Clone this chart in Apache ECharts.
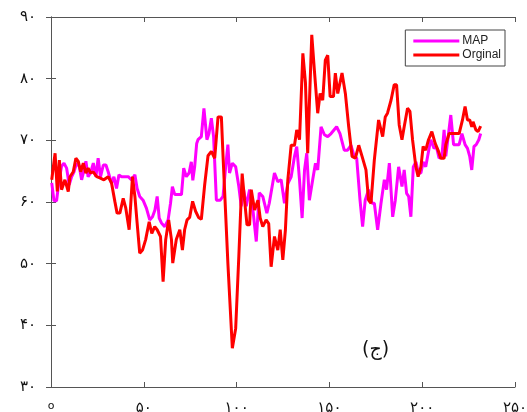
<!DOCTYPE html>
<html>
<head>
<meta charset="utf-8">
<script src="https://cdn.jsdelivr.net/npm/echarts@6/dist/echarts.min.js"></script>
<style>
  html, body { margin: 0; padding: 0; background: #fff; }
  #chart { width: 527px; height: 412px; }
</style>
</head>
<body>
<div id="chart"></div>
<script>
// سری MAP
const mapX = [0.4, 1.6, 3.0, 4.4, 5.7, 7.0, 8.4, 9.8, 11.1, 12.4, 13.8, 15.2, 16.5, 17.8, 18.8, 20.0, 21.3, 22.8, 24.2, 25.4,
  26.7, 28.2, 29.6, 30.8, 32.6, 33.9, 35.3, 36.6, 38.0, 39.8, 41.6, 43.4, 45.2, 46.4, 47.8, 49.6, 51.4, 53.2, 54.7, 56.0,
  57.2, 58.3, 59.5, 61.3, 63.1, 64.4, 65.4, 66.7, 68.5, 70.3, 71.5, 72.9, 74.4, 75.6, 76.4, 77.4, 78.5, 79.2, 81.0, 82.4,
  84.0, 85.1, 86.4, 87.6, 89.1, 91.2, 92.7, 94.1, 95.3, 96.2, 97.7, 99.5, 101.2, 102.5, 103.8, 105.2, 107.0, 108.8, 110.6, 112.2,
  114.1, 116.3, 117.6, 120.4, 122.2, 124.0, 125.8, 127.6, 129.4, 131.2, 132.4, 133.9, 135.3, 136.6, 137.8, 139.2, 141.0, 142.5, 143.7, 145.5,
  147.3, 149.1, 150.9, 153.9, 155.7, 158.0, 159.8, 161.6, 163.4, 164.7, 166.5, 167.9, 169.3, 171.1, 172.9, 174.2, 176.0, 177.8, 179.6, 180.8,
  182.3, 184.1, 185.5, 187.3, 189.1, 190.3, 191.6, 192.7, 193.9, 195.2, 196.6, 198.0, 199.3, 200.5, 201.9, 203.4, 204.6, 206.4, 207.6, 209.1,
  210.6, 211.8, 212.7, 214.2, 215.4, 216.9, 218.5, 219.9, 221.4, 223.1, 224.4, 225.6, 226.7, 227.9, 229.1, 230.5, 231.5];
const mapY = [63.1, 60.2, 60.2, 63.6, 65.8, 66.3, 65.5, 62.8, 64.1, 64.9, 66.3, 65.8, 63.6, 65.2, 66.6, 64.1, 64.7, 66.3, 64.1, 67.1,
  64.1, 66.0, 66.0, 64.9, 63.0, 64.1, 62.2, 64.4, 64.1, 64.1, 64.1, 63.6, 64.4, 62.2, 60.9, 60.3, 59.0, 57.1, 57.6, 58.7,
  60.9, 57.4, 56.6, 56.0, 57.1, 59.8, 62.5, 61.2, 61.2, 61.2, 65.5, 64.1, 64.7, 66.5, 63.5, 65.7, 69.5, 70.1, 70.6, 75.2,
  70.1, 71.1, 73.6, 70.6, 60.3, 60.3, 60.9, 65.7, 69.3, 64.7, 66.3, 65.7, 62.5, 59.3, 62.0, 59.3, 62.0, 58.7, 53.6, 61.5,
  60.9, 58.2, 59.8, 64.7, 63.3, 63.6, 59.8, 63.0, 64.1, 67.4, 69.0, 63.6, 57.4, 65.2, 67.9, 60.3, 63.6, 66.3, 65.2, 72.2,
  70.9, 70.6, 71.1, 72.2, 71.1, 68.4, 68.4, 69.2, 67.4, 67.1, 60.3, 56.0, 60.3, 62.0, 59.8, 59.8, 55.5, 59.8, 63.6, 62.0,
  66.3, 57.6, 60.3, 65.7, 62.5, 65.2, 61.4, 60.9, 57.6, 65.7, 66.5, 64.7, 64.7, 66.5, 65.7, 68.2, 70.1, 68.7, 69.0, 67.1,
  67.4, 71.7, 67.4, 71.1, 74.1, 69.3, 69.3, 69.3, 71.1, 69.3, 68.7, 67.4, 65.2, 69.0, 69.3, 70.1, 71.1];

// سری Orginal
const origX = [0.4, 2.2, 3.4, 4.5, 5.7, 7.5, 9.3, 10.2, 12.0, 13.4, 14.7, 16.0, 17.4, 18.8, 20.0, 21.3, 22.7, 24.6, 26.3, 28.5,
  30.8, 32.6, 34.4, 35.6, 37.1, 38.9, 40.3, 42.1, 43.9, 45.2, 46.4, 47.8, 49.3, 51.0, 52.9, 54.3, 55.9, 57.2, 59.0, 60.4,
  61.8, 63.4, 64.9, 65.6, 67.5, 69.4, 70.8, 72.0, 73.3, 74.7, 76.3, 77.9, 79.5, 81.0, 82.8, 84.6, 86.4, 88.2, 90.0, 91.8,
  92.7, 95.3, 97.7, 99.5, 101.2, 103.0, 104.3, 105.6, 107.0, 107.9, 109.7, 111.5, 112.7, 114.1, 115.9, 117.3, 118.6, 120.4, 122.2, 123.5,
  124.9, 126.3, 127.6, 129.4, 131.2, 132.4, 133.9, 135.7, 137.1, 138.3, 139.2, 140.5, 141.9, 143.7, 145.0, 146.4, 147.8, 149.1, 150.4, 152.2,
  153.2, 154.5, 156.8, 158.6, 160.4, 162.2, 164.0, 165.8, 167.6, 169.7, 171.1, 172.4, 174.2, 176.5, 178.7, 180.1, 181.3, 183.2, 184.9, 186.2,
  187.6, 189.1, 190.3, 192.1, 193.4, 194.8, 196.6, 197.8, 199.3, 200.5, 201.9, 203.4, 205.2, 207.0, 208.8, 210.0, 211.8, 212.7, 214.5, 216.3,
  218.1, 219.9, 221.7, 223.1, 224.4, 225.6, 226.7, 227.4, 228.9, 230.1, 231.5];
const origY = [63.6, 67.9, 61.7, 66.8, 62.0, 63.6, 61.7, 64.1, 64.9, 67.1, 66.6, 64.9, 66.3, 64.7, 65.5, 64.7, 64.9, 64.1, 63.9, 63.6,
  64.1, 63.1, 60.1, 58.2, 58.2, 60.6, 59.0, 55.5, 64.1, 60.9, 56.6, 51.7, 52.2, 53.9, 56.8, 54.9, 56.0, 55.5, 54.4, 47.1,
  53.9, 57.1, 53.9, 50.1, 53.9, 55.5, 52.2, 55.5, 57.1, 57.5, 60.1, 58.5, 57.5, 57.2, 62.8, 67.5, 68.2, 67.1, 73.8, 73.8,
  67.4, 50.1, 36.3, 39.5, 51.2, 64.6, 60.3, 56.3, 56.3, 62.0, 58.7, 60.3, 57.4, 56.0, 57.1, 56.5, 49.5, 54.4, 52.2, 55.5,
  50.6, 55.5, 63.6, 69.2, 69.2, 71.7, 70.1, 84.1, 79.3, 67.9, 67.9, 87.1, 81.4, 74.4, 77.6, 76.5, 83.0, 83.8, 77.1, 77.1,
  80.9, 77.6, 80.9, 77.6, 72.2, 67.4, 67.1, 69.2, 67.4, 65.2, 60.3, 59.8, 66.8, 73.3, 70.6, 73.8, 74.4, 76.5, 79.0, 79.0,
  72.5, 70.1, 72.2, 75.2, 74.7, 70.1, 65.7, 64.1, 65.7, 69.0, 68.4, 70.1, 71.4, 69.5, 68.2, 67.1, 67.1, 69.3, 71.1, 71.1,
  71.1, 71.1, 73.3, 75.5, 73.3, 73.3, 72.2, 73.0, 71.7, 71.4, 72.3];

const faDigits = '۰۱۲۳۴۵۶۷۸۹';
function toFa(n) {
    return String(n).replace(/\d/g, d => faDigits[d]);
}

function pairs(xs, ys) {
    return xs.map((x, i) => [x, ys[i]]);
}

const axisColor = '#555';

const chart = echarts.init(document.getElementById('chart'));
chart.setOption({
    animation: false,
    backgroundColor: '#fff',
    grid: { left: 51, right: 12, top: 17, bottom: 25, outerBoundsMode: 'none' },
    legend: {
        orient: 'vertical',
        right: 22,
        top: 30,
        itemWidth: 46,
        itemHeight: 3,
        itemGap: 2,
        icon: 'rect',
        padding: [5, 4, 5, 8],
        borderColor: '#444',
        borderWidth: 1,
        backgroundColor: '#fff',
        textStyle: { fontFamily: 'Liberation Sans', fontSize: 12, color: '#222', padding: [0, 0, 0, -2] },
        data: ['MAP', 'Orginal']
    },
    xAxis: [{
        type: 'value', min: 0, max: 250, interval: 50,
        axisLine: { show: true, lineStyle: { color: axisColor } },
        axisTick: { show: true, inside: true, length: 5, lineStyle: { color: axisColor } },
        splitLine: { show: false },
        axisLabel: {
            margin: 14, fontFamily: 'DejaVu Sans', fontSize: 15, color: '#111',
            // صفر تنها در شکل اصلی به صورت دایره کوچک دیده می‌شود
            formatter: v => v === 0 ? '{z|o}' : toFa(v),
            rich: { z: { fontFamily: 'DejaVu Sans', fontSize: 11, color: '#111', padding: [0, 0, 10, 0] } }
        }
    }, {
        type: 'value', position: 'top', min: 0, max: 250, interval: 50,
        axisLine: { show: true, lineStyle: { color: axisColor } },
        axisTick: { show: true, inside: true, length: 5, lineStyle: { color: axisColor } },
        splitLine: { show: false },
        axisLabel: { show: false }
    }],
    yAxis: [{
        type: 'value', min: 30, max: 90, interval: 10,
        axisLine: { show: true, lineStyle: { color: axisColor } },
        axisTick: { show: true, inside: true, length: 5, lineStyle: { color: axisColor } },
        splitLine: { show: false },
        axisLabel: {
            margin: 15, fontFamily: 'DejaVu Sans', fontSize: 15, color: '#111',
            formatter: v => toFa(v)
        }
    }, {
        type: 'value', position: 'right', min: 30, max: 90, interval: 10,
        axisLine: { show: true, lineStyle: { color: axisColor } },
        axisTick: { show: true, inside: true, length: 5, lineStyle: { color: axisColor } },
        splitLine: { show: false },
        axisLabel: { show: false }
    }],
    series: [{
        name: 'MAP',
        type: 'line',
        data: pairs(mapX, mapY),
        showSymbol: false,
        symbol: 'none',
        color: '#ff00ff',
        lineStyle: { width: 3, color: '#ff00ff' }
    }, {
        name: 'Orginal',
        type: 'line',
        data: pairs(origX, origY),
        showSymbol: false,
        symbol: 'none',
        color: '#ff0000',
        lineStyle: { width: 3, color: '#ff0000' }
    }],
    graphic: [{
        type: 'text',
        left: 362,
        top: 341,
        style: { text: '(ج)', fontFamily: 'DejaVu Sans', fontSize: 19, fill: '#111' }
    }]
});
</script>
</body>
</html>
